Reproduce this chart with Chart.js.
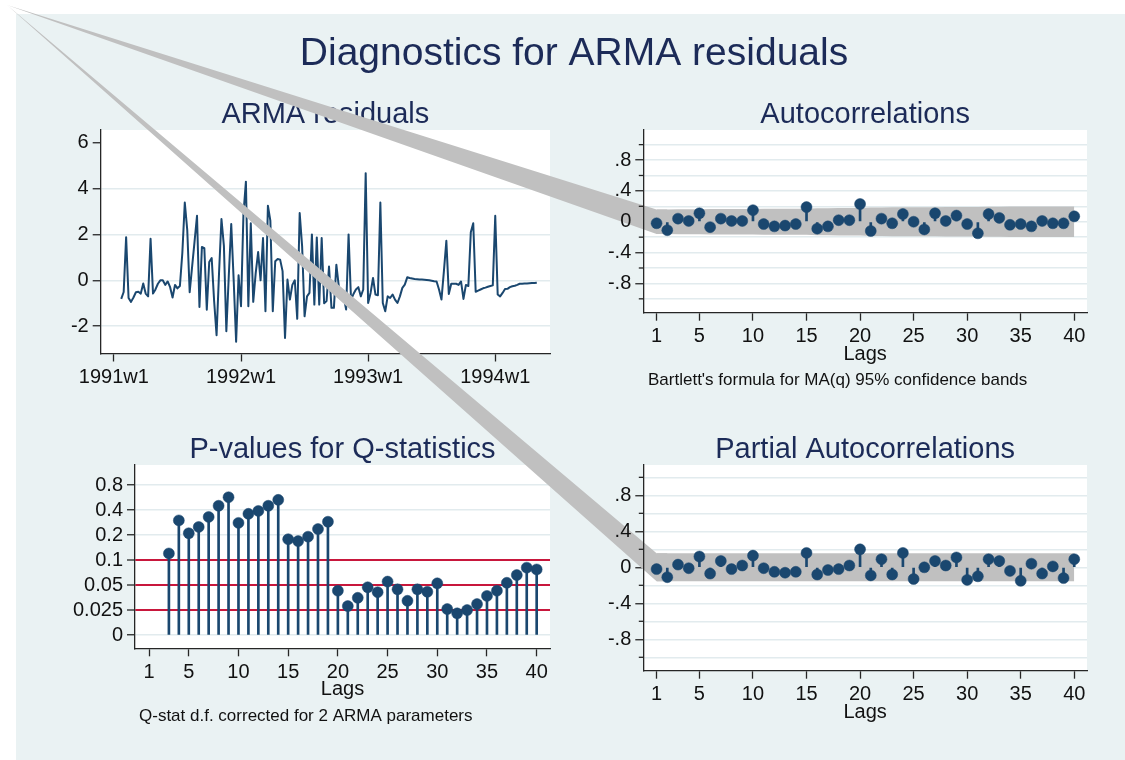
<!DOCTYPE html>
<html>
<head>
<meta charset="utf-8">
<script src="https://cdn.jsdelivr.net/npm/chart.js@4.4.0/dist/chart.umd.min.js"></script>
<style>
html,body{margin:0;padding:0;background:#ffffff;}
#wrap{position:relative;width:1125px;height:760px;overflow:hidden;}
#bg{position:absolute;left:16px;top:14px;right:0;bottom:0;background:#eaf2f3;}
canvas{position:absolute;left:0;top:0;}
</style>
</head>
<body>
<div id="wrap">
  <div id="bg"></div>
  <canvas id="cRes" width="1125" height="760"></canvas>
  <canvas id="cPv" width="1125" height="760"></canvas>
  <canvas id="cAcf" width="1125" height="760"></canvas>
  <canvas id="cPacf" width="1125" height="760"></canvas>
</div>
<script>
// ---------------- DATA ----------------
const mainTitle = "Diagnostics for ARMA residuals";
const panelTitles = ["ARMA residuals", "Autocorrelations", "P-values for Q-statistics", "Partial Autocorrelations"];
const lagAxisTitle = "Lags";
const acfNote = "Bartlett's formula for MA(q) 95% confidence bands";
const qNote = "Q-stat d.f. corrected for 2 ARMA parameters";

// residuals: weekly, first observation = 1991w4 (3 weeks after 1991w1)
const residualFirstWeek = 3;
const residuals = [
 -0.81,-0.51,1.88,-0.77,-0.94,-0.75,-0.52,-0.50,-0.58,-0.14,
 -0.58,-0.70,1.81,-0.58,-0.40,-0.15,0.00,0.00,-0.20,-0.05,
 -0.30,-0.75,-0.20,-0.35,-0.25,1.20,3.39,2.20,-0.52,0.60,
 1.70,2.81,-1.16,1.45,1.40,-1.28,0.80,0.97,-0.90,-2.39,
 0.30,2.67,1.50,-2.22,0.20,2.45,0.00,-2.68,0.22,-1.13,
 2.90,4.30,-1.13,2.49,-0.94,0.30,1.23,0.00,1.84,-1.35,
 3.25,2.60,-1.35,0.83,0.93,0.90,0.40,-2.51,0.03,-0.84,
 -0.20,0.00,-1.68,2.93,1.48,-1.57,-0.70,-0.55,2.00,-1.06,
 1.87,-1.06,1.84,-1.00,-0.90,0.60,-1.20,-1.20,0.68,-0.26,
 -0.70,-0.70,-1.27,2.00,-0.84,-0.60,-0.40,-0.30,-0.70,-0.40,
 4.67,-0.99,-0.55,0.10,-0.62,-0.65,3.39,-0.99,-1.35,-0.70,
 -0.77,-0.62,-0.84,-0.99,-0.70,-0.33,-0.19,0.13,0.10,0.08,
 0.06,0.05,0.04,0.03,0.02,0.01,0.00,-0.02,-0.04,-0.05,
 -0.40,-0.84,0.40,1.72,-0.60,-0.15,-0.15,-0.15,-0.20,-0.05,
 -0.81,-0.20,-0.25,2.09,2.49,-0.50,-0.45,-0.40,-0.35,-0.32,
 -0.28,-0.25,-0.22,2.81,-0.62,-0.70,-0.55,-0.38,-0.37,-0.30,
 -0.26,-0.24,-0.20,-0.15,-0.15,-0.14,-0.14,-0.13,-0.12,-0.12,
 -0.11
];
const timeTickValues = [0, 52, 104, 156];
const timeTickLabels = ["1991w1", "1992w1", "1993w1", "1994w1"];
const residualTickValues = [-2, 0, 2, 4, 6];

const lags = [1,2,3,4,5,6,7,8,9,10,11,12,13,14,15,16,17,18,19,20,21,22,23,24,25,26,27,28,29,30,31,32,33,34,35,36,37,38,39,40];
const lagTickValues = [1,5,10,15,20,25,30,35,40];

const acf = [
 -0.02,-0.11,0.04,0.01,0.11,-0.07,0.04,0.01,0.01,0.15,
 -0.03,-0.06,-0.05,-0.03,0.19,-0.09,-0.06,0.02,0.02,0.23,
 -0.12,0.04,-0.02,0.10,0.00,-0.10,0.11,0.01,0.08,-0.03,
 -0.15,0.10,0.05,-0.04,-0.03,-0.06,0.01,-0.02,-0.02,0.07
];
const acfBand = [
 0.160,0.160,0.162,0.162,0.162,0.164,0.165,0.165,0.165,0.165,
 0.169,0.169,0.169,0.170,0.170,0.175,0.176,0.177,0.177,0.177,
 0.185,0.186,0.187,0.187,0.188,0.188,0.189,0.191,0.191,0.192,
 0.192,0.195,0.196,0.197,0.197,0.197,0.197,0.197,0.198,0.198
];
const pacf = [
 -0.02,-0.11,0.03,-0.01,0.12,-0.07,0.07,-0.02,0.02,0.13,
 -0.01,-0.05,-0.06,-0.05,0.16,-0.08,-0.03,-0.02,0.02,0.20,
 -0.09,0.09,-0.08,0.16,-0.13,0.00,0.07,0.02,0.11,-0.14,
 -0.10,0.09,0.07,-0.04,-0.15,0.04,-0.07,0.01,-0.12,0.09
];
const pacfBand = [
 0.155,0.155,0.155,0.155,0.155,0.155,0.155,0.155,0.155,0.155,
 0.155,0.155,0.155,0.155,0.155,0.155,0.155,0.155,0.155,0.155,
 0.155,0.155,0.155,0.155,0.155,0.155,0.155,0.155,0.155,0.155,
 0.155,0.155,0.155,0.155,0.155,0.155,0.155,0.155,0.155,0.155
];
const corrMajorTicks = [-0.8, -0.4, 0, 0.4, 0.8];
const corrMajorLabels = ["-.8", "-.4", "0", ".4", ".8"];
const corrMinorTicks = [-1, -0.6, -0.2, 0.2, 0.6, 1];

const qLags = [3,4,5,6,7,8,9,10,11,12,13,14,15,16,17,18,19,20,21,22,23,24,25,26,27,28,29,30,31,32,33,34,35,36,37,38,39,40];
const qPvalues = [
 0.12,0.30,0.21,0.25,0.33,0.45,0.57,0.28,0.36,0.39,
 0.45,0.53,0.178,0.169,0.191,0.236,0.289,0.0427,0.0279,0.0351,
 0.047,0.041,0.055,0.0444,0.0323,0.0444,0.0415,0.0524,0.0257,0.0228,
 0.025,0.0295,0.037,0.0427,0.0532,0.066,0.081,0.077
];
const pTickValues = [0, 0.025, 0.05, 0.1, 0.2, 0.4, 0.8];
const pTickLabels = ["0", "0.025", "0.05", "0.1", "0.2", "0.4", "0.8"];
const pRefLines = [0.025, 0.05, 0.1];

// ---------------- STYLE ----------------
const W = 1125, H = 760;
const FONT = "'Liberation Sans', Arial, Helvetica, sans-serif";
const NAVY = '#1a476f';
const AXIS = '#262626';
const TXT = '#111111';
const GRID = '#e2ebee';
const BAND = '#c0c0c0';
const REF = '#c8173c';
const TITLE_C = '#1c2b58';
const Y_AXIS_W = 90, X_AXIS_H = 40;
const artifactOrigin = { x: 7, y: 5 };

// p-value axis is equally spaced in doublings above 0.0125 (0 at the base)
const pPos = p => (p <= 0 ? 0 : Math.log2(p / 0.0125));

function padFor(a) {
  return { left: a.left - Y_AXIS_W, top: a.top, right: W - a.right, bottom: H - a.bottom - X_AXIS_H };
}
const near = (a, b) => Math.abs(a - b) < 1e-6;
function idxOf(arr, v) { for (let i = 0; i < arr.length; i++) if (near(arr[i], v)) return i; return -1; }

function xAxis(min, max, vals, labels) {
  return {
    type: 'linear', min, max, bounds: 'data', offset: false, clip: false,
    afterBuildTicks: s => { s.ticks = vals.map(v => ({ value: v })); },
    afterFit: s => { s.height = X_AXIS_H; },
    ticks: { callback: v => { const i = idxOf(vals, v); return i >= 0 ? labels[i] : ''; },
      font: { family: FONT, size: 20 }, color: TXT, padding: 4, maxRotation: 0, autoSkip: false, z: 1 },
    grid: { offset: false, drawOnChartArea: false, drawTicks: true, tickLength: 8, tickColor: AXIS, tickWidth: 1.3, color: AXIS },
    border: { display: true, color: AXIS, width: 1.3, z: 1 }
  };
}
function yAxis(min, max, vals, labelFn, gridColor, gridWidth, tickColor) {
  return {
    type: 'linear', min, max, bounds: 'data', clip: false,
    afterBuildTicks: s => { s.ticks = vals.map(v => ({ value: v })); },
    afterFit: s => { s.width = Y_AXIS_W; },
    ticks: { callback: v => labelFn(v), font: { family: FONT, size: 20 }, color: TXT, padding: 4, autoSkip: false, z: 1 },
    grid: { offset: false, drawTicks: true, tickLength: 8, tickWidth: 1.3, color: gridColor, lineWidth: gridWidth, tickColor: tickColor || AXIS },
    border: { display: true, color: AXIS, width: 1.3, z: 1 }
  };
}

// ---------------- PLUGINS ----------------
const plotAreaPlugin = {
  id: 'plotArea',
  beforeDraw(chart) {
    const a = chart.chartArea, c = chart.ctx;
    c.save(); c.fillStyle = '#ffffff';
    c.fillRect(a.left, a.top, a.right - a.left, a.bottom - a.top);
    c.restore();
  }
};
const textPlugin = {
  id: 'panelText',
  afterDraw(chart, args, opts) {
    const items = (opts && opts.items) || [];
    const a = chart.chartArea, c = chart.ctx;
    c.save();
    for (const it of items) {
      c.font = it.font; c.fillStyle = it.color; c.textBaseline = 'alphabetic';
      c.textAlign = it.align;
      let x, y;
      if (it.abs) { x = it.x; y = it.y; }
      else {
        x = it.align === 'center' ? (a.left + a.right) / 2 : a.left + it.dx;
        y = it.from === 'top' ? a.top + it.dy : a.bottom + it.dy;
      }
      c.fillText(it.text, x, y);
    }
    c.restore();
  }
};
const minorTickPlugin = {
  id: 'minorTicks',
  afterDraw(chart, args, opts) {
    if (!opts || !opts.values) return;
    const ys = chart.scales.y, x = chart.chartArea.left, c = chart.ctx;
    c.save(); c.strokeStyle = AXIS; c.lineWidth = 1.3;
    for (const v of opts.values) {
      const y = ys.getPixelForValue(v);
      c.beginPath(); c.moveTo(x - 4.5, y); c.lineTo(x, y); c.stroke();
    }
    c.restore();
  }
};
// the confidence-band polygon of the original starts from the graph origin
const bandWedgePlugin = {
  id: 'bandWedge',
  beforeDatasetsDraw(chart, args, opts) {
    if (!opts || opts.upper === undefined) return;
    const up = chart.getDatasetMeta(opts.upper).data, lo = chart.getDatasetMeta(opts.lower).data;
    if (!up.length) return;
    const c = chart.ctx;
    c.save(); c.fillStyle = BAND;
    c.beginPath();
    c.moveTo(artifactOrigin.x, artifactOrigin.y);
    c.lineTo(up[0].x, up[0].y); c.lineTo(up[1].x, up[1].y);
    c.lineTo(lo[1].x, lo[1].y); c.lineTo(lo[0].x, lo[0].y);
    c.closePath(); c.fill();
    c.restore();
  }
};

function makeChart(id, area, datasets, scales, pluginOpts) {
  return new Chart(document.getElementById(id), {
    type: 'line',
    data: { datasets },
    options: {
      responsive: false, animation: false, devicePixelRatio: 1, events: [],
      layout: { padding: padFor(area), autoPadding: false },
      scales,
      plugins: Object.assign({ legend: { display: false }, tooltip: { enabled: false }, title: { display: false } }, pluginOpts)
    },
    plugins: [plotAreaPlugin, bandWedgePlugin, textPlugin, minorTickPlugin]
  });
}

const titleFont = `29px ${FONT}`;
const tickFontStr = `20px ${FONT}`;
const noteFont = `17px ${FONT}`;

// ---------------- RESIDUALS ----------------
makeChart('cRes', { left: 100.7, top: 130, right: 550, bottom: 353.5 },
  [{ type: 'line', data: residuals.map((v, i) => ({ x: residualFirstWeek + i, y: v })),
     borderColor: NAVY, borderWidth: 2, pointRadius: 0, tension: 0, fill: false, borderJoinStyle: 'round' }],
  {
    x: xAxis(-5.4, 178.4, timeTickValues, timeTickLabels),
    y: yAxis(-3.19, 6.55, residualTickValues, v => String(v),
      ctx => (ctx.tick && near(ctx.tick.value, 6) ? 'rgba(0,0,0,0)' : GRID), 1.5)
  },
  { panelText: { items: [
      { abs: true, x: 574, y: 65, align: 'center', text: mainTitle, font: `39px ${FONT}`, color: TITLE_C },
      { align: 'center', from: 'top', dy: -7, text: panelTitles[0], font: titleFont, color: TITLE_C }
  ] } });

// ---------------- P-VALUES ----------------
const pPoints = qLags.map((l, i) => ({ x: l, y: pPos(qPvalues[i]) }));
const pTickPos = pTickValues.map(pPos);
const refPos = pRefLines.map(pPos);
makeChart('cPv', { left: 135, top: 465, right: 550, bottom: 648.3 },
  [
    { type: 'line', order: 0, data: pPoints, showLine: false, pointRadius: 5.5,
      pointBackgroundColor: NAVY, pointBorderColor: NAVY, pointBorderWidth: 0.5 },
    { type: 'bar', order: 1, data: pPoints, backgroundColor: NAVY, barThickness: 2, borderWidth: 0 }
  ],
  {
    x: xAxis(-0.41, 41.34, lagTickValues, lagTickValues.map(String)),
    y: yAxis(-0.53, 6.8, pTickPos, v => { const i = idxOf(pTickPos, v); return i >= 0 ? pTickLabels[i] : ''; },
      ctx => (ctx.tick && idxOf(refPos, ctx.tick.value) >= 0 ? REF : GRID),
      ctx => (ctx.tick && idxOf(refPos, ctx.tick.value) >= 0 ? 2 : 1.5))
  },
  { panelText: { items: [
      { align: 'center', from: 'top', dy: -7, text: panelTitles[2], font: titleFont, color: TITLE_C },
      { align: 'center', from: 'bottom', dy: 47, text: lagAxisTitle, font: tickFontStr, color: TXT },
      { align: 'left', from: 'bottom', dx: 4, dy: 72.4, text: qNote, font: noteFont, color: TXT }
  ] } });

// ---------------- CORRELOGRAMS ----------------
const corrTicks = corrMajorTicks.concat(corrMinorTicks).sort((a, b) => a - b);
function corrY(min, max) {
  return yAxis(min, max, corrTicks,
    v => { const i = idxOf(corrMajorTicks, v); return i >= 0 ? corrMajorLabels[i] : ''; },
    GRID, 1.5,
    ctx => (ctx.tick && idxOf(corrMajorTicks, ctx.tick.value) >= 0 ? AXIS : 'rgba(0,0,0,0)'));
}
function corrDatasets(vals, band) {
  const pts = lags.map((l, i) => ({ x: l, y: vals[i] }));
  return [
    { type: 'line', order: 0, data: pts, showLine: false, pointRadius: 5.5,
      pointBackgroundColor: NAVY, pointBorderColor: NAVY, pointBorderWidth: 0.5 },
    { type: 'bar', order: 1, data: pts, backgroundColor: NAVY, barThickness: 2, borderWidth: 0 },
    { type: 'line', order: 2, data: lags.map((l, i) => ({ x: l, y: band[i] })), borderWidth: 0,
      borderColor: BAND, pointRadius: 0, fill: '+1', backgroundColor: BAND, tension: 0 },
    { type: 'line', order: 3, data: lags.map((l, i) => ({ x: l, y: -band[i] })), borderWidth: 0,
      borderColor: BAND, pointRadius: 0, fill: false, tension: 0 }
  ];
}

makeChart('cAcf', { left: 643.3, top: 130, right: 1087, bottom: 312.7 },
  corrDatasets(acf, acfBand),
  { x: xAxis(-0.24, 41.19, lagTickValues, lagTickValues.map(String)), y: corrY(-1.18, 1.19) },
  {
    bandWedge: { upper: 2, lower: 3 },
    minorTicks: { values: corrMinorTicks },
    panelText: { items: [
      { align: 'center', from: 'top', dy: -7, text: panelTitles[1], font: titleFont, color: TITLE_C },
      { align: 'center', from: 'bottom', dy: 47, text: lagAxisTitle, font: tickFontStr, color: TXT },
      { align: 'left', from: 'bottom', dx: 4.7, dy: 72.3, text: acfNote, font: noteFont, color: TXT }
    ] }
  });

makeChart('cPacf', { left: 643.3, top: 465, right: 1087, bottom: 670.7 },
  corrDatasets(pacf, pacfBand),
  { x: xAxis(-0.24, 41.19, lagTickValues, lagTickValues.map(String)), y: corrY(-1.149, 1.137) },
  {
    bandWedge: { upper: 2, lower: 3 },
    minorTicks: { values: corrMinorTicks },
    panelText: { items: [
      { align: 'center', from: 'top', dy: -7, text: panelTitles[3], font: titleFont, color: TITLE_C },
      { align: 'center', from: 'bottom', dy: 47, text: lagAxisTitle, font: tickFontStr, color: TXT }
    ] }
  });
</script>
</body>
</html>
